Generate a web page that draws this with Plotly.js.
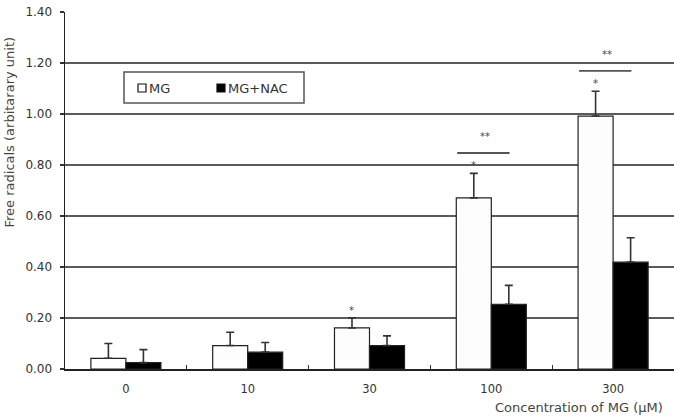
<!DOCTYPE html>
<html>
<head>
<meta charset="utf-8">
<script src="https://cdn.plot.ly/plotly-3.0.1.min.js"></script>
<style>
html,body{margin:0;padding:0;overflow:hidden;background:#fff;}
#chart{width:674px;height:417px;}
</style>
</head>
<body>
<div id="chart"></div>
<script>
// Data
const categories = ['0', '10', '30', '100', '300'];
const mgValues = [0.042, 0.092, 0.161, 0.671, 0.992];
const mgErrors = [0.058, 0.052, 0.040, 0.096, 0.097];
const nacValues = [0.025, 0.066, 0.092, 0.254, 0.419];
const nacErrors = [0.051, 0.038, 0.038, 0.074, 0.096];
const yTicks = [0, 0.2, 0.4, 0.6, 0.8, 1.0, 1.2, 1.4];
const seriesNames = ['MG', 'MG+NAC'];
// significance: single star over MG bar, double star over bracket
const singleStarCats = ['30', '100', '300'];
const doubleStarCats = ['100', '300'];

const font = 'DejaVu Sans, Liberation Sans, sans-serif';
const zeros = mgValues.map(() => 0);

// plot-area geometry (px) used to place paper-referenced decorations
const L = 65, W = 609, T = 12, H = 357;
const px = v => (v - L) / W;
const py = v => (T + H - v) / H;

const mgFill = '#fdfdfd', nacFill = '#000';

const traces = [
  {
    type: 'bar', name: seriesNames[0], x: categories, y: mgValues, showlegend: false,
    marker: {color: mgFill, line: {color: '#222', width: 1.2}},
    error_y: {type: 'data', array: mgErrors, arrayminus: zeros, symmetric: false,
              color: '#333', thickness: 1.6, width: 4}
  },
  {
    type: 'bar', name: seriesNames[1], x: categories, y: nacValues, showlegend: false,
    marker: {color: nacFill, line: {color: '#222', width: 1.2}},
    error_y: {type: 'data', array: nacErrors, arrayminus: zeros, symmetric: false,
              color: '#333', thickness: 1.6, width: 4}
  }
];

const annotations = [];
const shapes = [];
const mgOffset = -0.145; // MG bar centre relative to category centre
const starFont = {family: font, size: 10, color: '#444'};
singleStarCats.forEach(c => {
  const i = categories.indexOf(c);
  const top = mgValues[i] + mgErrors[i];
  annotations.push({x: i + mgOffset, y: top + 0.03, xref: 'x', yref: 'y', text: '*',
    showarrow: false, font: starFont, yanchor: 'middle'});
});
doubleStarCats.forEach(c => {
  const i = categories.indexOf(c);
  const top = mgValues[i] + mgErrors[i];
  const ly = top + 0.08;
  shapes.push({type: 'line', xref: 'x', yref: 'y', x0: i - 0.28, x1: i + 0.15, y0: ly, y1: ly,
    line: {color: '#555', width: 1.8}});
  annotations.push({x: i - 0.05, y: ly + 0.065, xref: 'x', yref: 'y', text: '**',
    showarrow: false, font: starFont, yanchor: 'middle'});
});

// axis titles
annotations.push({
  x: px(9), y: py(132.5), xref: 'paper', yref: 'paper', text: 'Free radicals (arbitarary unit)',
  showarrow: false, textangle: -90, font: {family: font, size: 13, color: '#444'},
  xanchor: 'center', yanchor: 'middle'
});
annotations.push({
  x: px(493), y: py(416.5), xref: 'paper', yref: 'paper', text: 'Concentration of MG (μM)',
  showarrow: false, font: {family: font, size: 13, color: '#444'}, xanchor: 'left', yanchor: 'bottom'
});

// legend box drawn by hand (compact, like the reference)
shapes.push({type: 'rect', xref: 'paper', yref: 'paper', x0: px(124), x1: px(304), y0: py(103), y1: py(72),
  line: {color: '#555', width: 1.5}, fillcolor: '#fff', layer: 'above'});
const legendItems = [
  {name: seriesNames[0], fill: mgFill, x: 138},
  {name: seriesNames[1], fill: nacFill, x: 217}
];
legendItems.forEach(it => {
  shapes.push({type: 'rect', xref: 'paper', yref: 'paper', x0: px(it.x), x1: px(it.x + 8),
    y0: py(92), y1: py(84), line: {color: '#111', width: 1.2}, fillcolor: it.fill, layer: 'above'});
  annotations.push({x: px(it.x + 9), y: py(88), xref: 'paper', yref: 'paper', text: it.name,
    showarrow: false, xanchor: 'left', yanchor: 'middle',
    font: {family: font, size: 13, color: '#333'}});
});

const layout = {
  width: 674, height: 417,
  margin: {l: L, r: 674 - L - W, t: T, b: 417 - T - H},
  paper_bgcolor: '#fff', plot_bgcolor: '#fff',
  barmode: 'group', bargap: 0.425, bargroupgap: 0,
  showlegend: false,
  xaxis: {
    type: 'category', range: [-0.5, 4.5],
    showline: true, linecolor: '#222', linewidth: 1.5,
    ticks: 'inside', tickson: 'boundaries', ticklen: 4, tickcolor: '#333', tickwidth: 1.2,
    ticklabelstandoff: 9,
    tickfont: {family: font, size: 11.5, color: '#333'},
    showgrid: false, zeroline: false, fixedrange: true
  },
  yaxis: {
    range: [0, 1.4], tickvals: yTicks, tickformat: '.2f',
    showline: true, linecolor: '#222', linewidth: 1.5,
    ticks: 'outside', ticklen: 4, tickcolor: '#333', tickwidth: 1.2,
    ticklabelstandoff: 5,
    tickfont: {family: font, size: 12, color: '#333'},
    showgrid: true, gridcolor: '#5a5a5a', gridwidth: 1.8, zeroline: false, fixedrange: true
  },
  annotations: annotations,
  shapes: shapes
};

Plotly.newPlot('chart', traces, layout, {displayModeBar: false, staticPlot: true});
</script>
</body>
</html>
